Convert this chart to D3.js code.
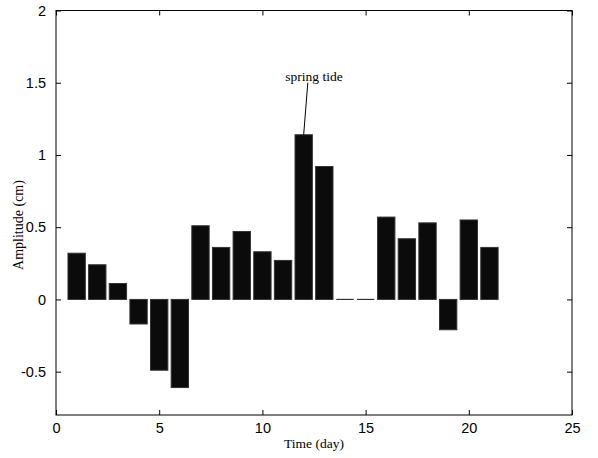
<!DOCTYPE html>
<html><head><meta charset="utf-8">
<script src="https://cdn.jsdelivr.net/npm/d3@7"></script>
<style>body{margin:0;background:#fff}</style>
</head><body>
<svg id="c" width="598" height="458"></svg>
<script>
const days = [1,2,3,4,5,6,7,8,9,10,11,12,13,14,15,16,17,18,19,20,21];
const amplitude = [0.32,0.24,0.11,-0.17,-0.49,-0.61,0.51,0.36,0.47,0.33,0.27,1.14,0.92,0,0,0.57,0.42,0.53,-0.21,0.55,0.36];
const xTicks = [0,5,10,15,20,25];
const yTicks = [-0.5,0,0.5,1,1.5,2];
const annotationText = "spring tide";
const annotationFrom = [12.2, 1.5];
const annotationTo = [12, 1.14];
const annotationLabelPos = [12.5, 1.515];

const svg = d3.select("#c");
const L=56, R=572, T=10.5, B=415;
const x = d3.scaleLinear().domain([0,25]).range([L,R]);
const y = d3.scaleLinear().domain([-0.8,2]).range([B,T]);
const bw = 0.84;

// bars
svg.append("g").selectAll("rect").data(days).enter().append("rect")
  .attr("x", d=>x(d-bw/2))
  .attr("width", d=>x(d+bw/2)-x(d-bw/2))
  .attr("y", (d,i)=>y(Math.max(0,amplitude[i])))
  .attr("height", (d,i)=>Math.abs(y(amplitude[i])-y(0)))
  .attr("fill","#0b0b0b").attr("stroke","#333").attr("stroke-width",1);
// zero-height bars drawn as their edge line
svg.append("g").selectAll("line").data(days.filter((d,i)=>amplitude[i]===0)).enter().append("line")
  .attr("x1", d=>x(d-bw/2)).attr("x2", d=>x(d+bw/2))
  .attr("y1", y(0)).attr("y2", y(0))
  .attr("stroke","#333").attr("stroke-width",1.2);

// axes
const tickFont = "Liberation Sans, Arial, sans-serif";
const gx = svg.append("g").attr("transform",`translate(0,${B})`)
  .call(d3.axisBottom(x).tickValues(xTicks).tickSize(-5).tickPadding(8).tickFormat(d3.format("d")));
const gxt = svg.append("g").attr("transform",`translate(0,${T})`)
  .call(d3.axisTop(x).tickValues(xTicks).tickSize(-5).tickFormat(""));
const gy = svg.append("g").attr("transform",`translate(${L},0)`)
  .call(d3.axisLeft(y).tickValues(yTicks).tickSize(-5).tickPadding(10).tickFormat(d=>String(d)));
const gyr = svg.append("g").attr("transform",`translate(${R},0)`)
  .call(d3.axisRight(y).tickValues(yTicks).tickSize(-5).tickFormat(""));
[gx,gxt,gy,gyr].forEach(g=>{
  g.select(".domain").remove();
  g.selectAll("line").attr("stroke","#000");
  g.selectAll("text").attr("font-family",tickFont).attr("font-size","14.5px").attr("fill","#000");
});
svg.append("rect").attr("x",L).attr("y",T).attr("width",R-L).attr("height",B-T)
  .attr("fill","none").attr("stroke","#000").attr("stroke-width",1);

// labels
const serif = "Liberation Serif, Times New Roman, serif";
svg.append("text").attr("x",(L+R)/2).attr("y",448).attr("text-anchor","middle")
  .attr("font-family",serif).attr("font-size","13.5px").text("Time (day)");
svg.append("text").attr("transform","translate(23,225) rotate(-90)").attr("text-anchor","middle")
  .attr("font-family",serif).attr("font-size","14px").text("Amplitude (cm)");

// annotation
svg.append("line").attr("x1",x(annotationFrom[0])).attr("y1",y(annotationFrom[1]))
  .attr("x2",x(annotationTo[0])).attr("y2",y(annotationTo[1])).attr("stroke","#000").attr("stroke-width",1);
svg.append("text").attr("x",x(annotationLabelPos[0])).attr("y",y(annotationLabelPos[1]))
  .attr("text-anchor","middle").attr("font-family",serif).attr("font-size","13.5px").text(annotationText);
</script>
</body></html>
